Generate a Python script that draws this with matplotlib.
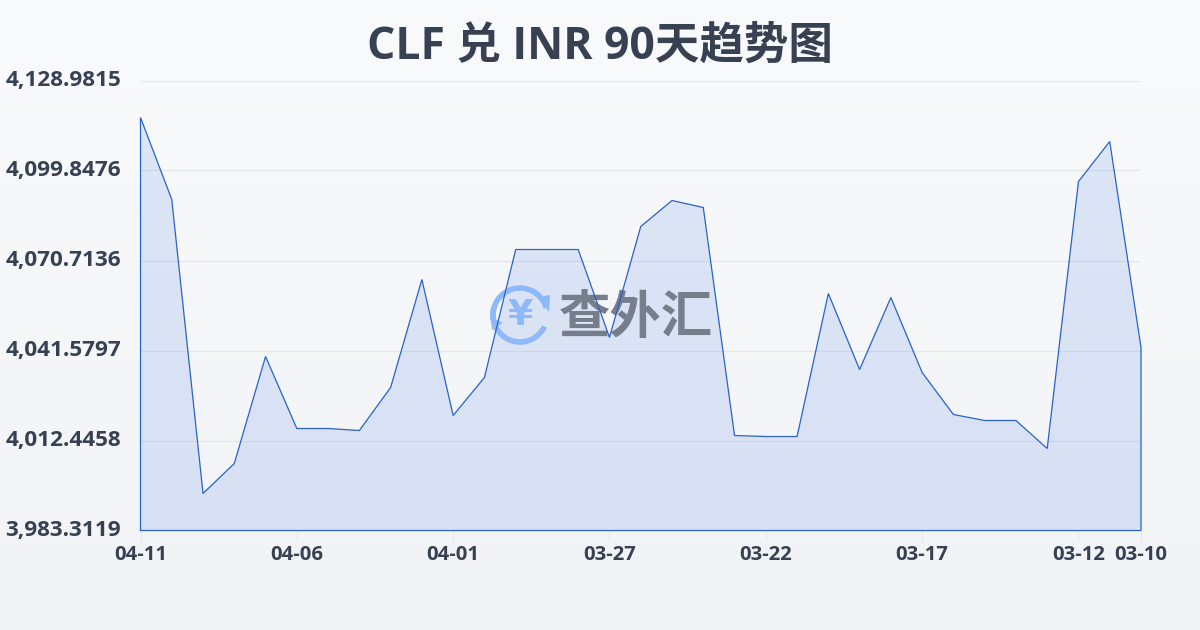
import numpy as np
import matplotlib
matplotlib.use("Agg")
import matplotlib.pyplot as plt
from matplotlib.patches import Arc, Polygon
from matplotlib.transforms import ScaledTranslation

plt.rcParams['font.family'] = ['Open Sans', 'Noto Sans CJK SC', 'DejaVu Sans']

values = [4117.0, 4090.46, 3995.29, 4005.0, 4039.64, 4016.33, 4016.33, 4015.68, 4029.6, 4064.56,
          4020.54, 4032.84, 4074.27, 4074.27, 4074.27, 4045.79, 4081.72, 4090.13, 4087.87, 4014.06,
          4013.74, 4013.74, 4060.03, 4035.43, 4058.73, 4034.46, 4020.86, 4018.92, 4018.92, 4009.85,
          4096.28, 4109.23, 4042.55]
xtick_pos = [0, 5, 10, 15, 20, 25, 30, 32]
xtick_labels = ["04-11", "04-06", "04-01", "03-27", "03-22", "03-17", "03-12", "03-10"]
ytick_vals = [3983.3119, 4012.4458, 4041.5797, 4070.7136, 4099.8476, 4128.9815]
ytick_labels = ["3,983.3119", "4,012.4458", "4,041.5797", "4,070.7136", "4,099.8476", "4,128.9815"]
title = "CLF 兑 INR 90天趋势图"

TEXT = "#374151"
LINE = "#2a62c8"
BLUE = "#8db8f9"
GREY = "#767d8b"

fig = plt.figure(figsize=(12, 6.3), dpi=100)

# page background, top to bottom
bg = fig.add_axes([0, 0, 1, 1], zorder=0)
bg.imshow(np.linspace(0, 1, 256).reshape(-1, 1), aspect="auto", extent=(0, 1200, 630, 0),
          cmap=matplotlib.colors.LinearSegmentedColormap.from_list("bg", ["#f8fafc", "#f1f3f6"]))
bg.set_xlim(0, 1200)
bg.set_ylim(630, 0)
bg.axis("off")

bg.text(600, 47, title, color=TEXT, fontsize=32, fontweight="bold", ha="center", va="center")

ax = fig.add_axes([140.5 / 1200, 1 - 530.5 / 630, 1000.5 / 1200, 450 / 630], zorder=1)
ax.patch.set_alpha(0)
x = np.arange(len(values))
ax.fill_between(x, values, ytick_vals[0], facecolor=(0.145, 0.388, 0.878, 0.125), edgecolor="none", zorder=2)
ax.plot(np.r_[x[0], x, x[-1], x[0]], np.r_[ytick_vals[0], values, ytick_vals[0], ytick_vals[0]],
        color=LINE, lw=0.9, solid_joinstyle="miter", zorder=4, clip_on=False)

# watermark goes over the fill, under the line
px = bg.transData
wm = [
    Arc((520, 315), 54, 54, theta1=25, theta2=195, color=BLUE, lw=4, transform=px),
    Arc((520, 315), 54, 54, theta1=165, theta2=345, color=BLUE, lw=4, transform=px),
    Polygon([[538, 297], [550, 295], [549, 312]], closed=True, color=BLUE, lw=0, transform=px),
    Polygon([[491, 317], [503, 323], [492, 330]], closed=True, color=BLUE, lw=0, transform=px),
]
for a in wm:
    a.set_zorder(3)
    ax.add_artist(a)
    a.set_clip_on(False)
ax.text(520, 315, "¥", color=BLUE, fontsize=26, fontweight="bold", ha="center", va="center",
        family="DejaVu Sans", transform=px, zorder=3)
ax.text(636, 318, "查外汇", color=GREY, fontsize=37, fontweight="bold", ha="center", va="center",
        family="Noto Sans CJK SC", transform=px, zorder=3)

ax.set_xlim(0, len(values) - 1)
ax.set_ylim(ytick_vals[0], ytick_vals[-1])
ax.set_yticks(ytick_vals, ytick_labels)
ax.set_xticks(xtick_pos, xtick_labels)
ax.grid(axis="y", color="#e5e7eb", lw=0.9, zorder=1)
ax.set_axisbelow(True)
for s in ax.spines.values():
    s.set_visible(False)
ax.tick_params(axis="y", length=0, pad=14, labelsize=16.2, labelcolor=TEXT)
ax.tick_params(axis="x", length=7, width=0.8, color="#e5e7eb", pad=3.5, labelsize=14.6, labelcolor=TEXT)
nudge = ScaledTranslation(0, 2 / 72, fig.dpi_scale_trans)
for t in ax.get_yticklabels() + ax.get_xticklabels():
    t.set_fontfamily("Open Sans")
    t.set_fontweight("bold")
for t in ax.get_yticklabels():
    t.set_transform(t.get_transform() + nudge)

fig.savefig("out.png", dpi=100)
